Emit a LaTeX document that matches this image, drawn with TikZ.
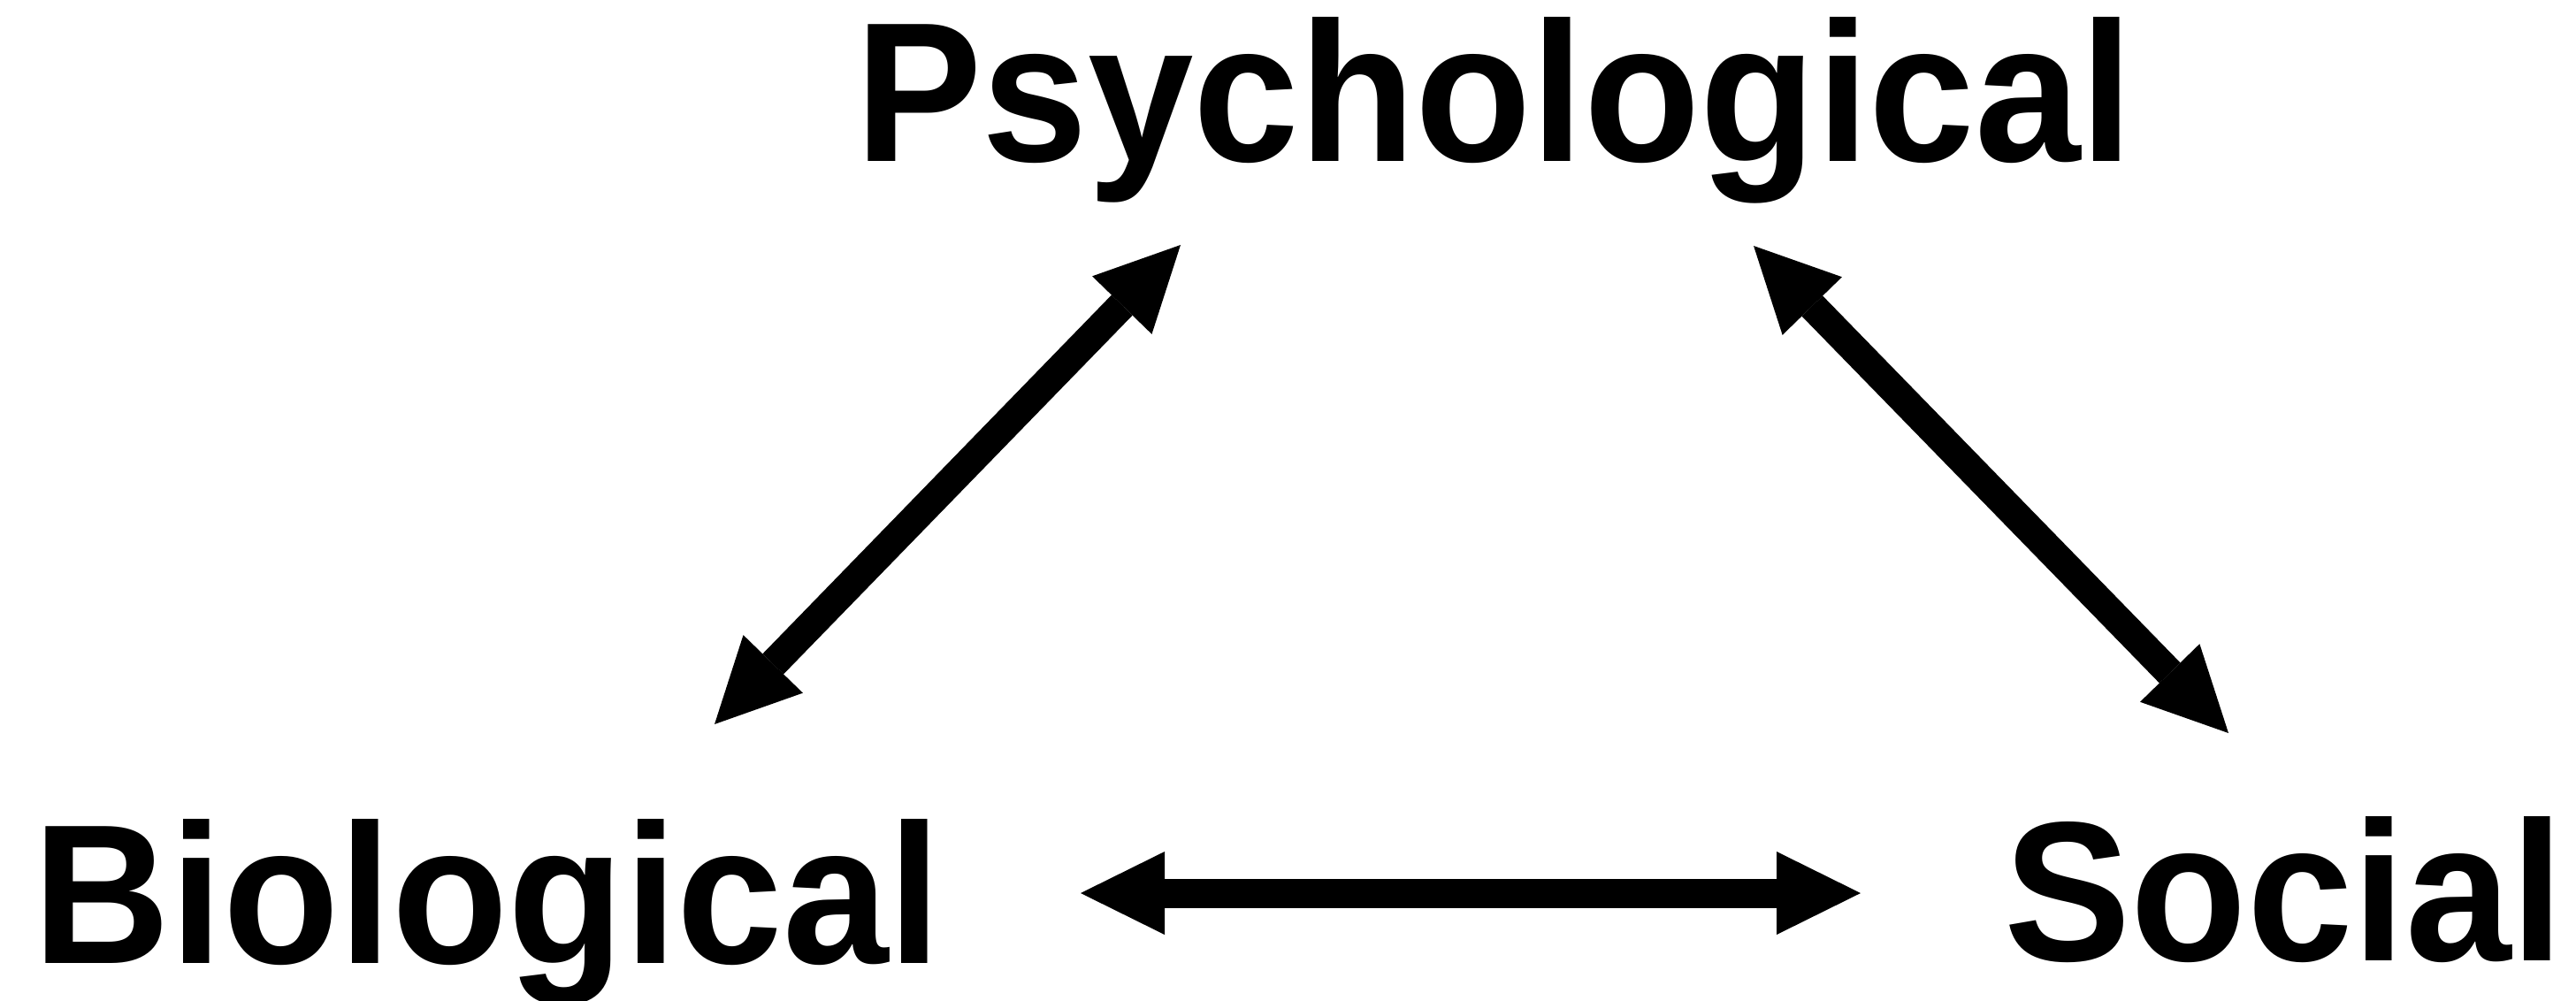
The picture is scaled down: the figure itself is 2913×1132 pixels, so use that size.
\documentclass[tikz,border=0pt]{standalone}
\usepackage{fontspec}
\setmainfont{Liberation Sans}[FakeStretch=0.955]
\usetikzlibrary{arrows.meta}

\begin{document}
\begin{tikzpicture}[
                x = 1pt, y = -1pt, % pixel units, y downwards
                > = {Triangle[length=95pt, width=94pt, line width=0pt]}, % arrow head style
                line width = 33pt % line style
        ]

        \tikzstyle{every node}=[
            inner sep = 0pt,
            anchor = base,
            font = \fontsize{225}{260}\selectfont\bfseries
        ]

        \useasboundingbox (0,0) rectangle (2913,1132);

        \node (Psy) at (1690,182) {Psychological};
        \node (Bio) at (551,1089) {Biological};
        \node (Soc) at (2583,1086) {Social};

        % arrow ends
        \coordinate (BioP) at (808,819);
        \coordinate (PsyB) at (1335,277);
        \coordinate (PsyS) at (1983,278);
        \coordinate (SocP) at (2520,829);
        \coordinate (BioS) at (1222,1010);
        \coordinate (SocB) at (2104,1010);

        \draw[<->] (BioP) -- (PsyB);
        \draw[<->] (PsyS) -- (SocP);
        \draw[<->] (BioS) -- (SocB);

        \end{tikzpicture}
\end{document}
